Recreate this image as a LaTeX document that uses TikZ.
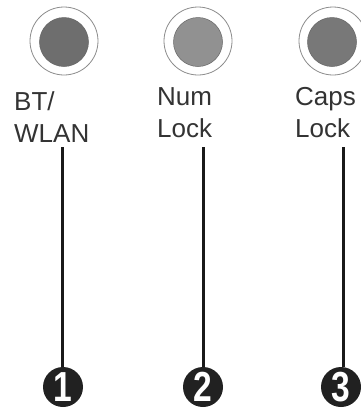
\documentclass[tikz,border=0pt]{standalone}
\usepackage{fontspec}
\setmainfont{Liberation Sans}
\begin{document}
\begin{tikzpicture}[x=1pt,y=-1pt,
  ledring/.style={circle,draw=black!45,line width=0.8pt,fill=white,minimum size=68pt,inner sep=0pt},
  leddisc/.style={circle,draw=black!60,line width=0.5pt,minimum size=49pt,inner sep=0pt},
  lbl/.style={align=left,inner sep=0pt,anchor=base west,text=black!80,font=\fontsize{26}{31.5}\selectfont},
  numbadge/.style={circle,fill=black!87,minimum size=40pt,inner sep=0pt,text=white,font=\fontsize{42}{42}\selectfont\bfseries},
  leader/.style={line width=3pt,draw=black!90}]
\useasboundingbox (0,0) rectangle (361,410);
% LEDs
\node[ledring] (r1) at (64,41) {};
\node[leddisc,fill=black!57] (d1) at (64,42) {};
\node[ledring] (r2) at (198,41) {};
\node[leddisc,fill=black!43] (d2) at (198,42) {};
\node[ledring] (r3) at (333,41) {};
\node[leddisc,fill=black!53] (d3) at (332,42) {};
% labels (anchor at baseline of last line)
\node[lbl] (l1) at (14,142) {BT/\\WLAN};
\node[lbl] (l2) at (157,137) {Num\\Lock};
\node[lbl] (l3) at (295,137) {Caps\\Lock};
% numbers
\node[numbadge] (n1) at (63,387) {\scalebox{0.8}[1]{1}};
\node[numbadge] (n2) at (203,387) {\scalebox{0.8}[1]{2}};
\node[numbadge] (n3) at (341,387) {\scalebox{0.8}[1]{3}};
% leader lines
\coordinate (t1) at (62,147);
\coordinate (t2) at (203,147);
\coordinate (t3) at (343,147);
\draw[leader] (t1) -- (t1 |- n1.north);
\draw[leader] (t2) -- (t2 |- n2.north);
\draw[leader] (t3) -- (t3 |- n3.north);
\end{tikzpicture}
\end{document}
